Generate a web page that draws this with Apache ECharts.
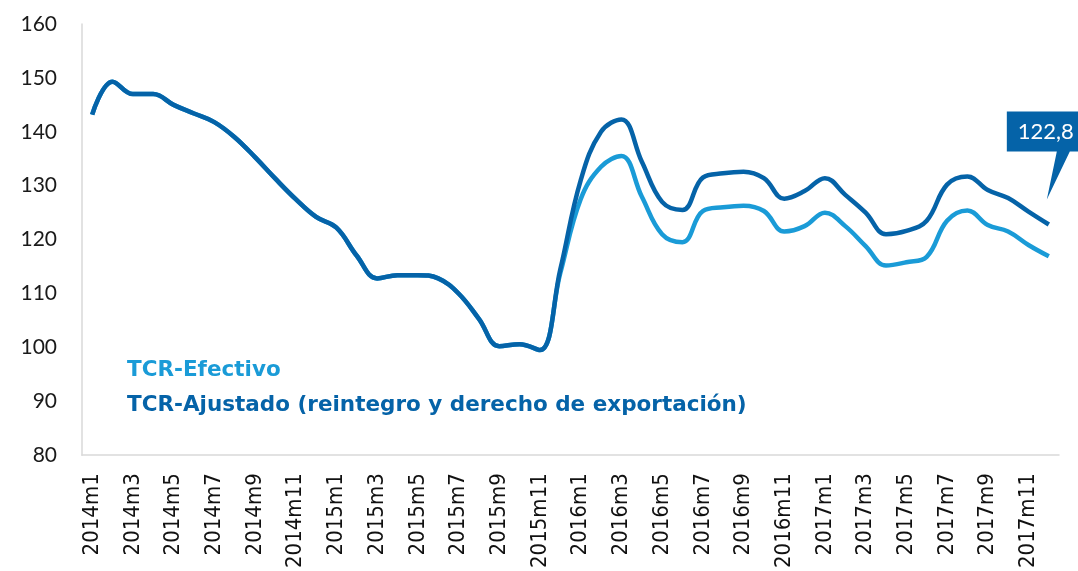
<!DOCTYPE html>
<html>
<head>
<meta charset="utf-8">
<script src="https://cdn.jsdelivr.net/npm/echarts@6/dist/echarts.min.js"></script>
<style>
html,body{margin:0;padding:0;background:#fff;}
#chart{width:1078px;height:571px;}
</style>
</head>
<body>
<div id="chart"></div>
<script>
var categories = (function(){
  var out = [];
  for (var y = 2014; y <= 2017; y++) { for (var m = 1; m <= 12; m++) { out.push(y + 'm' + m); } }
  return out;
})();

var seriesNames = ['TCR-Efectivo', 'TCR-Ajustado (reintegro y derecho de exportación)'];

var tcrEfectivo = [
  143.2, 149.3, 147.0, 147.0, 145.0, 143.4, 141.8, 139.0, 135.3, 131.3,
  127.5, 124.2, 122.2, 117.0, 112.8, 113.4, 113.4, 112.8, 110.0, 105.3,
  100.2, 100.6, 99.5, 113.8, 127.5, 133.5, 135.5, 128.0, 121.0, 119.5,
  125.3, 126.0, 126.3, 125.3, 121.5, 122.5, 125.0, 122.5, 118.8, 115.2,
  115.8, 116.8, 123.5, 125.4, 122.7, 121.5, 119.0, 116.9
];

var tcrAjustado = [
  143.2, 149.3, 147.0, 147.0, 145.0, 143.4, 141.8, 139.0, 135.3, 131.3,
  127.5, 124.2, 122.2, 117.0, 112.8, 113.4, 113.4, 112.8, 110.0, 105.3,
  100.2, 100.6, 99.5, 114.5, 131.0, 140.0, 142.3, 134.5, 127.0, 125.5,
  131.5, 132.3, 132.6, 131.4, 127.6, 129.0, 131.4, 128.3, 125.0, 121.0,
  121.6, 123.5, 130.2, 131.7, 129.2, 127.7, 125.2, 122.8
];

var yTicks = { min: 80, max: 160, interval: 10 };

var colorLight = '#1a9bd7';
var colorDark = '#0563a8';

var lastIdx = tcrAjustado.length - 1;

var chart = echarts.init(document.getElementById('chart'), null, { renderer: 'canvas' });

chart.setOption({
  animation: false,
  backgroundColor: '#ffffff',
  grid: { left: 82, right: 19, top: 24, bottom: 114, containLabel: false },
  legend: {
    orient: 'vertical',
    left: 113,
    top: 355,
    padding: 0,
    icon: 'none',
    itemWidth: 9,
    itemHeight: 14,
    itemGap: 5,
    selectedMode: false,
    textStyle: { fontFamily: 'DejaVu Sans', fontWeight: 'bold', fontSize: 21.5, lineHeight: 30 },
    data: [
      { name: seriesNames[0], textStyle: { color: colorLight } },
      { name: seriesNames[1], textStyle: { color: colorDark } }
    ]
  },
  xAxis: {
    type: 'category',
    data: categories,
    boundaryGap: true,
    axisLine: { show: true, lineStyle: { color: '#d9d9d9', width: 1.5 } },
    axisTick: { show: false },
    splitLine: { show: false },
    axisLabel: {
      interval: 1,
      rotate: 90,
      margin: 18,
      color: '#111111',
      fontFamily: 'DejaVu Sans Condensed',
      fontSize: 22
    }
  },
  yAxis: {
    type: 'value',
    min: yTicks.min,
    max: yTicks.max,
    interval: yTicks.interval,
    axisLine: { show: true, lineStyle: { color: '#d9d9d9', width: 1.5 } },
    axisTick: { show: false },
    splitLine: { show: false },
    axisLabel: {
      margin: 25,
      color: '#1a1a1a',
      fontFamily: 'Lato',
      fontSize: 21
    }
  },
  series: [
    {
      name: seriesNames[0],
      type: 'line',
      data: tcrEfectivo,
      smooth: 0.4,
      symbol: 'none',
      lineStyle: { color: colorLight, width: 4.5 },
      itemStyle: { color: colorLight }
    },
    {
      name: seriesNames[1],
      type: 'line',
      data: tcrAjustado,
      smooth: 0.4,
      symbol: 'none',
      lineStyle: { color: colorDark, width: 4.5 },
      itemStyle: { color: colorDark },
      markPoint: {
        symbol: 'path://M0,0 L78,0 L78,40 L63,40 L40,88 L50,40 L0,40 Z',
        symbolSize: [78, 88],
        symbolOffset: [-3, -69],
        itemStyle: { color: colorDark },
        label: {
          show: true,
          position: 'inside',
          offset: [0, -24],
          color: '#ffffff',
          fontFamily: 'Lato',
          fontSize: 22,
          formatter: function (p) { return p.value.toFixed(1).replace('.', ','); }
        },
        data: [ { coord: [lastIdx, tcrAjustado[lastIdx]], value: tcrAjustado[lastIdx] } ]
      }
    }
  ]
});
</script>
</body>
</html>
